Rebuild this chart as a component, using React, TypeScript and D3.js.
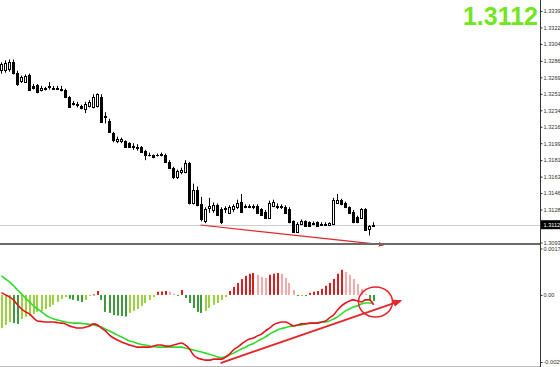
import React, { useRef, useEffect } from "react";
import { select, scaleLinear, axisRight, line, curveMonotoneX, format } from "d3";

// candles, oldest first
const opens = [
  1.3277, 1.3277, 1.3278, 1.3285, 1.3274, 1.3265, 1.3264, 1.3272, 1.3260, 1.3261,
  1.3256, 1.3257, 1.3259, 1.3258, 1.3258, 1.3257, 1.3256, 1.3248, 1.3242, 1.3241,
  1.3239, 1.3235, 1.3239, 1.3238, 1.3239, 1.3248, 1.3227, 1.3223, 1.3210, 1.3201,
  1.3201, 1.3201, 1.3199, 1.3196, 1.3195, 1.3195, 1.3191, 1.3187, 1.3186, 1.3186,
  1.3186, 1.3187, 1.3179, 1.3173, 1.3163, 1.3168, 1.3168, 1.3178, 1.3135, 1.3149,
  1.3134, 1.3116, 1.3130, 1.3128, 1.3133, 1.3129, 1.3129, 1.3125, 1.3129, 1.3131,
  1.3137, 1.3132, 1.3132, 1.3132, 1.3132, 1.3129, 1.3126, 1.3120, 1.3132, 1.3132,
  1.3132, 1.3131, 1.3129, 1.3116, 1.3105, 1.3113, 1.3116, 1.3115, 1.3114, 1.3115,
  1.3113, 1.3113, 1.3112, 1.3113, 1.3136, 1.3139, 1.3136, 1.3131, 1.3126, 1.3121,
  1.3120, 1.3129, 1.3108, 1.3111,
];
const highs = [
  1.3285, 1.3287, 1.3288, 1.3288, 1.3276, 1.3271, 1.3272, 1.3273, 1.3262, 1.3262,
  1.3260, 1.3259, 1.3264, 1.3260, 1.3260, 1.3260, 1.3257, 1.3249, 1.3244, 1.3243,
  1.3240, 1.3243, 1.3245, 1.3251, 1.3252, 1.3251, 1.3232, 1.3225, 1.3211, 1.3206,
  1.3205, 1.3202, 1.3200, 1.3199, 1.3198, 1.3196, 1.3192, 1.3189, 1.3187, 1.3188,
  1.3189, 1.3188, 1.3181, 1.3174, 1.3171, 1.3173, 1.3181, 1.3179, 1.3156, 1.3153,
  1.3142, 1.3131, 1.3141, 1.3136, 1.3135, 1.3131, 1.3132, 1.3133, 1.3134, 1.3139,
  1.3145, 1.3134, 1.3134, 1.3134, 1.3134, 1.3130, 1.3128, 1.3138, 1.3139, 1.3135,
  1.3134, 1.3133, 1.3131, 1.3117, 1.3115, 1.3118, 1.3117, 1.3116, 1.3116, 1.3116,
  1.3115, 1.3115, 1.3115, 1.3141, 1.3145, 1.3140, 1.3137, 1.3132, 1.3128, 1.3122,
  1.3130, 1.3130, 1.3112, 1.3115,
];
const lows = [
  1.3273, 1.3274, 1.3275, 1.3272, 1.3260, 1.3263, 1.3263, 1.3255, 1.3256, 1.3252,
  1.3254, 1.3255, 1.3256, 1.3256, 1.3256, 1.3254, 1.3247, 1.3237, 1.3239, 1.3237,
  1.3235, 1.3231, 1.3237, 1.3236, 1.3237, 1.3221, 1.3220, 1.3210, 1.3200, 1.3199,
  1.3199, 1.3194, 1.3194, 1.3192, 1.3191, 1.3189, 1.3181, 1.3185, 1.3183, 1.3185,
  1.3185, 1.3178, 1.3172, 1.3161, 1.3161, 1.3166, 1.3167, 1.3134, 1.3134, 1.3132,
  1.3116, 1.3114, 1.3125, 1.3125, 1.3122, 1.3113, 1.3125, 1.3124, 1.3126, 1.3129,
  1.3125, 1.3130, 1.3130, 1.3129, 1.3124, 1.3122, 1.3119, 1.3119, 1.3131, 1.3129,
  1.3129, 1.3124, 1.3114, 1.3104, 1.3104, 1.3112, 1.3110, 1.3110, 1.3112, 1.3110,
  1.3111, 1.3111, 1.3111, 1.3112, 1.3135, 1.3133, 1.3130, 1.3124, 1.3114, 1.3114,
  1.3119, 1.3106, 1.3101, 1.3110,
];
const closes = [
  1.3283, 1.3284, 1.3285, 1.3274, 1.3262, 1.3269, 1.3270, 1.3256, 1.3258, 1.3253,
  1.3258, 1.3258, 1.3260, 1.3257, 1.3257, 1.3256, 1.3248, 1.3238, 1.3241, 1.3240,
  1.3236, 1.3241, 1.3243, 1.3248, 1.3251, 1.3222, 1.3228, 1.3211, 1.3202, 1.3204,
  1.3203, 1.3195, 1.3195, 1.3195, 1.3194, 1.3190, 1.3186, 1.3186, 1.3184, 1.3187,
  1.3188, 1.3179, 1.3173, 1.3163, 1.3169, 1.3171, 1.3178, 1.3136, 1.3149, 1.3133,
  1.3119, 1.3129, 1.3132, 1.3133, 1.3123, 1.3115, 1.3130, 1.3131, 1.3132, 1.3136,
  1.3126, 1.3131, 1.3131, 1.3131, 1.3125, 1.3123, 1.3120, 1.3136, 1.3137, 1.3131,
  1.3131, 1.3125, 1.3115, 1.3105, 1.3113, 1.3116, 1.3111, 1.3111, 1.3113, 1.3111,
  1.3112, 1.3112, 1.3114, 1.3139, 1.3139, 1.3134, 1.3131, 1.3125, 1.3115, 1.3115,
  1.3129, 1.3107, 1.3111, 1.31124,
];

// MACD panel
const macdHist = [
  -0.00127, -0.00115, -0.00104, -0.00108, -0.00111, -0.00092, -0.00084, -0.00081, -0.00073, -0.00065,
  -0.00061, -0.00054, -0.00046, -0.00038, -0.00027, -0.00015, -0.00008, -0.00015, -0.00019, -0.00023,
  -0.00027, -0.00019, -0.00004, 0.00002, 0.00015, -0.00019, -0.00065, -0.00069, -0.00077, -0.00079,
  -0.00081, -0.00083, -0.00069, -0.00061, -0.00054, -0.00042, -0.00031, -0.00019, -0.00008, 0.00012,
  0.00013, 0.00015, 0.00012, 0.00004, -0.00002, 0.00019, -0.00012, -0.00031, -0.0005, -0.00065,
  -0.00069, -0.00061, -0.0005, -0.00038, -0.00031, -0.00019, -0.00008, 0.00015, 0.00031, 0.00046,
  0.00061, 0.00073, 0.00081, 0.00084, 0.00077, 0.00069, 0.00065, 0.00077, 0.00081, 0.00084,
  0.00081, 0.00065, 0.00046, 0.00019, -0.00004, -0.00002, -0.00004, 0.00008, 0.00012, 0.00015,
  0.00023, 0.00035, 0.00046, 0.00061, 0.00081, 0.00096, 0.00088, 0.00077, 0.00061, 0.00042,
  0.00023, 0.00004, -0.00019, -0.00023,
];
const macdMain = [
  0.00008, 0, -0.00008, -0.00019, -0.00038, -0.00054, -0.00065, -0.00073, -0.00088, -0.001,
  -0.00102, -0.00104, -0.00104, -0.00104, -0.00106, -0.00108, -0.00111, -0.00119, -0.00123, -0.00127,
  -0.00127, -0.00123, -0.00119, -0.00111, -0.00115, -0.00127, -0.00138, -0.00154, -0.00165, -0.00173,
  -0.0018, -0.00186, -0.00192, -0.00196, -0.002, -0.002, -0.002, -0.002, -0.00196, -0.00192,
  -0.00192, -0.00196, -0.00196, -0.00192, -0.00188, -0.00184, -0.00192, -0.00207, -0.0023, -0.00242,
  -0.00246, -0.0025, -0.0025, -0.00246, -0.00246, -0.00246, -0.00238, -0.00227, -0.00211, -0.002,
  -0.00188, -0.00177, -0.00169, -0.00165, -0.00157, -0.0015, -0.00138, -0.00127, -0.00115, -0.00108,
  -0.00104, -0.00104, -0.00111, -0.00119, -0.00115, -0.00111, -0.00111, -0.00108, -0.00108, -0.00108,
  -0.00104, -0.001, -0.00088, -0.00077, -0.00058, -0.00042, -0.00031, -0.00023, -0.00019, -0.00023,
  -0.00027, -0.00019, -0.00019, -0.00038,
];
const macdSignal = [
  0.00073, 0.00061, 0.0005, 0.00035, 0.00019, 0.00004, -0.00012, -0.00027, -0.00042, -0.00054,
  -0.00065, -0.00077, -0.00086, -0.00092, -0.00096, -0.001, -0.00104, -0.00106, -0.00108, -0.00108,
  -0.00109, -0.00111, -0.00113, -0.00115, -0.00119, -0.00123, -0.00131, -0.00138, -0.00146, -0.00154,
  -0.00161, -0.00169, -0.00177, -0.0018, -0.00186, -0.0019, -0.00192, -0.00196, -0.00198, -0.002,
  -0.002, -0.002, -0.002, -0.002, -0.002, -0.002, -0.00204, -0.00207, -0.00211, -0.00215,
  -0.00219, -0.00223, -0.00227, -0.00232, -0.00238, -0.0024, -0.00238, -0.0023, -0.00223, -0.00215,
  -0.00207, -0.002, -0.00192, -0.00186, -0.00177, -0.00169, -0.00161, -0.0015, -0.00142, -0.00134,
  -0.00129, -0.00125, -0.00121, -0.00119, -0.00117, -0.00115, -0.00111, -0.00109, -0.00108, -0.00106,
  -0.00104, -0.00104, -0.001, -0.00092, -0.00084, -0.00073, -0.00061, -0.00054, -0.00046, -0.00042,
  -0.00035, -0.00031, -0.00031, -0.00031,
];

const priceTicks = [
  1.33395, 1.3322, 1.33045, 1.32865, 1.3269, 1.32515, 1.3234, 1.32165,
  1.3199, 1.3181, 1.31635, 1.3146, 1.31285, 1.30935,
];
const macdTicks = [0.001778, 0, -0.00257];
const macdTickLabels = ["0.001778", "0.00", "-0.00257"];
const lastPrice = 1.31124;
const bigLabel = "1.3112";

// hand drawn annotations: [bar index, value]
const priceTrend = [[49.75, 1.31121], [95.5, 1.30909]];
const macdTrend = [[54.75, -0.00261], [99.75, -0.00023]];
const macdCircle = [93.5, -0.00027];

const W = 560;
const H = 367;
const axisX = 540.5;
const RED = "#e5262b";

function MT4Chart() {
  const priceAxisRef = useRef(null);
  const macdAxisRef = useRef(null);

  const x = scaleLinear().domain([0, 93]).range([1.5, 373.5]);
  const yP = scaleLinear().domain([1.30935, 1.33395]).range([242.5, 11]);
  const yM = scaleLinear().domain([-0.00257, 0.001778]).range([362, 248.5]);

  const px = v => Math.round(v) + 0.5;

  useEffect(() => {
    const styleAxis = g => {
      g.select(".domain").remove();
      g.selectAll("line").attr("stroke", "#333");
      g.selectAll("text")
        .attr("font-family", "Liberation Sans, Arial, sans-serif")
        .attr("font-size", 5.6)
        .attr("fill", "#333")
        .attr("x", 3);
    };
    select(priceAxisRef.current)
      .call(axisRight(yP).tickValues(priceTicks).tickSize(2).tickSizeOuter(0).tickFormat(format(".5f")))
      .call(styleAxis);
    select(macdAxisRef.current)
      .call(axisRight(yM).tickValues(macdTicks).tickSize(2).tickSizeOuter(0)
        .tickFormat((d, i) => macdTickLabels[i]))
      .call(styleAxis);
  }, []);

  // 4 colour histogram: rising/falling above and below zero
  let prevColor = "#9bd040";
  const histColors = macdHist.map((v, i) => {
    const prev = i > 0 ? macdHist[i - 1] : v;
    let c = prevColor;
    if (v >= 0) c = v > prev ? "#d81e1e" : v < prev ? "#f4a9a9" : prevColor.startsWith("#d8") || prevColor.startsWith("#f4") ? prevColor : "#d81e1e";
    else c = v < prev ? "#3c9a3c" : v > prev ? "#9bd040" : prevColor.startsWith("#3c") || prevColor.startsWith("#9b") ? prevColor : "#9bd040";
    prevColor = c;
    return c;
  });

  const mLine = line().x((d, i) => x(i)).y(d => yM(d)).curve(curveMonotoneX);

  return (
    <svg width={W} height={H} style={{ display: "block", background: "#fff" }}>
      <defs>
        <marker id="arr" viewBox="0 0 10 10" refX="8" refY="5" markerWidth="5" markerHeight="5" orient="auto">
          <path d="M0,1 L10,5 L0,9 z" fill={RED} />
        </marker>
      </defs>

      {/* current price line */}
      <line x1={0} x2={axisX} y1={px(yP(lastPrice))} y2={px(yP(lastPrice))} stroke="#cfcfcf" />

      {/* candles */}
      <g>
        {closes.map((c, i) => {
          const o = opens[i];
          const cx = x(i);
          const top = px(yP(Math.max(o, c)));
          const bot = px(yP(Math.min(o, c)));
          const bull = c > o;
          return (
            <g key={i}>
              <line x1={cx} x2={cx} y1={yP(highs[i])} y2={yP(lows[i])} stroke="#000" />
              {top === bot ? (
                <line x1={cx - 1.5} x2={cx + 1.5} y1={top} y2={top} stroke="#000" />
              ) : (
                <rect x={cx - 1} y={top} width={2} height={bot - top}
                  fill={bull ? "#fff" : "#000"} stroke="#000" />
              )}
            </g>
          );
        })}
      </g>

      <line x1={x(priceTrend[0][0])} y1={yP(priceTrend[0][1])} x2={x(priceTrend[1][0])} y2={yP(priceTrend[1][1])}
        stroke={RED} strokeWidth={1.2} markerEnd="url(#arr)" />

      {/* panel separator */}
      <line x1={0} x2={axisX} y1={244} y2={244} stroke="#6a6a6a" strokeWidth={2} />
      <line x1={0} x2={axisX} y1={366.5} y2={366.5} stroke="#bbb" />

      {/* MACD histogram */}
      <g>
        {macdHist.map((v, i) => {
          const y0 = yM(0);
          const y1 = yM(v);
          return (
            <rect key={i} x={Math.round(x(i)) - 1} y={Math.min(y0, y1)} width={2}
              height={Math.max(1, Math.abs(y1 - y0))} fill={histColors[i]} />
          );
        })}
      </g>
      <path d={mLine(macdSignal)} fill="none" stroke="#2edc2e" strokeWidth={1.6} />
      <path d={mLine(macdMain)} fill="none" stroke="#e8141c" strokeWidth={1.6} />

      <line x1={x(macdTrend[0][0])} y1={yM(macdTrend[0][1])} x2={x(macdTrend[1][0])} y2={yM(macdTrend[1][1])}
        stroke={RED} strokeWidth={1.8} markerEnd="url(#arr)" />
      <ellipse cx={x(macdCircle[0])} cy={yM(macdCircle[1])} rx={17} ry={15}
        fill="none" stroke={RED} strokeWidth={1.5} />

      {/* right price scale */}
      <line x1={axisX} x2={axisX} y1={0} y2={H} stroke="#333" />
      <g ref={priceAxisRef} transform={`translate(${axisX},0)`} />
      <g ref={macdAxisRef} transform={`translate(${axisX},0)`} />
      <rect x={axisX + 0.5} y={yP(lastPrice) - 4.5} width={W - axisX} height={9} fill="#000" />
      <text x={axisX + 3} y={yP(lastPrice) + 2} fontSize={5.6} fill="#fff"
        fontFamily="Liberation Sans, Arial, sans-serif">{lastPrice.toFixed(5)}</text>

      <text x={538} y={24.5} textAnchor="end" fontSize={25} fontWeight="bold" fill="#72e620"
        fontFamily="Liberation Sans, Arial, sans-serif">{bigLabel}</text>
    </svg>
  );
}

export default function App() {
  return (
    <div>
      <style>{`body{margin:0}`}</style>
      <MT4Chart />
    </div>
  );
}
